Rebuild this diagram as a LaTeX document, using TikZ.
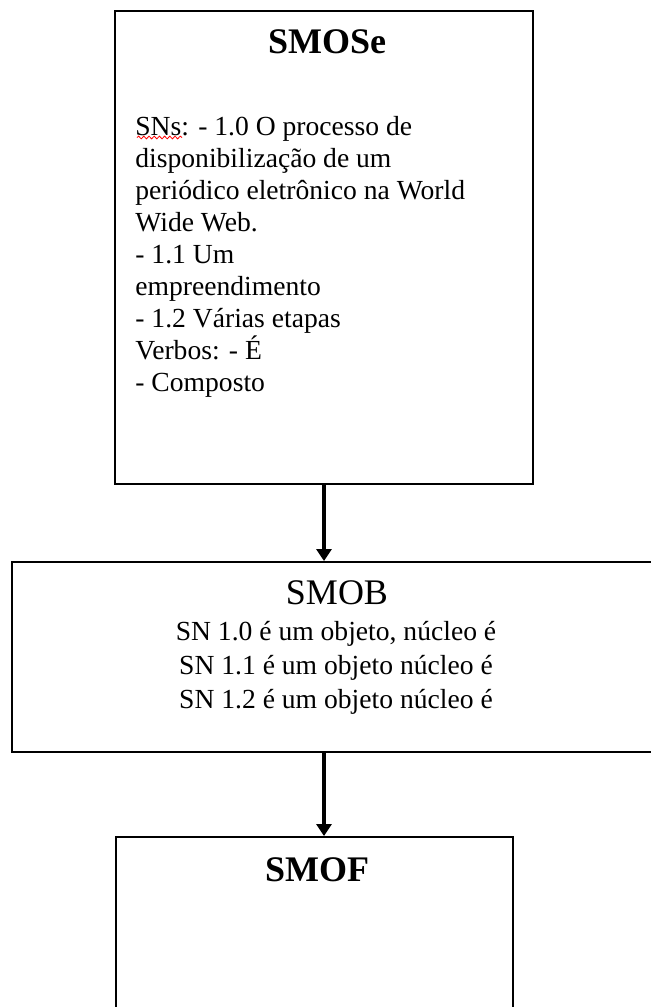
\documentclass[tikz,border=0pt]{standalone}
\usepackage{fontspec}
\setmainfont{Liberation Serif}
\usetikzlibrary{arrows.meta}
\usetikzlibrary{decorations.pathmorphing}
\tikzstyle{box}=[draw, line width=1pt, inner sep=0pt]
\tikzstyle{title}=[inner sep=0pt, font=\fontsize{18}{20}\selectfont]
\tikzstyle{btitle}=[title, font=\fontsize{18}{20}\selectfont\bfseries]
\tikzstyle{body}=[inner sep=0pt, font=\fontsize{13.8}{16}\selectfont]
\tikzstyle{flow}=[line width=1.8pt, -{Triangle[width=7.5pt, length=6pt]}]

\begin{document}
\begin{tikzpicture}[x=1pt, y=-1pt]
        \useasboundingbox (0, 0) rectangle (325.5, 503.5);
        \clip (0, 0) rectangle (325.5, 503.5);
        \node[box, minimum width=209pt, minimum height=236.5pt]   (SMOSe) at (162, 123.75) {};
        \node[box, minimum width=324pt, minimum height=95pt]      (SMOB) at (168, 328.5) {};
        \node[box, minimum width=198.5pt, minimum height=120pt]   (SMOF) at (157.25, 478.5) {};
        \node[btitle]                                   (SMOSetitle) at (163.5, 21) {SMOSe};
        \node[body, anchor=north west, align=left]      (SMOSebody) at (67.5, 58)
            {SNs: - 1.0 O processo de\\ disponibilização de um\\ periódico eletrônico na World\\
             Wide Web.\\ - 1.1 Um\\ empreendimento\\ - 1.2 Várias etapas\\ Verbos: - É\\ - Composto};
        \draw[red, line width=0.4pt, decorate, decoration={snake, amplitude=0.7pt, segment length=2.6pt}]
            (68.5, 68.75) -- (91, 68.75);
        \node[title]                                    (SMOBtitle) at (168.5, 296.5) {SMOB};
        \node[body, anchor=north, align=center, font=\fontsize{13.8}{17}\selectfont] (SMOBbody) at (168, 310.5)
            {SN 1.0 é um objeto, núcleo é\\ SN 1.1 é um objeto núcleo é\\ SN 1.2 é um objeto núcleo é};
        \node[btitle]                                   (SMOFtitle) at (158.5, 435) {SMOF};
        \draw[flow] (SMOSe.south) -- (SMOSe.south |- SMOB.north);
        \draw[flow] (SMOSe.south |- SMOB.south) -- (SMOSe.south |- SMOF.north);
    \end{tikzpicture}
\end{document}
